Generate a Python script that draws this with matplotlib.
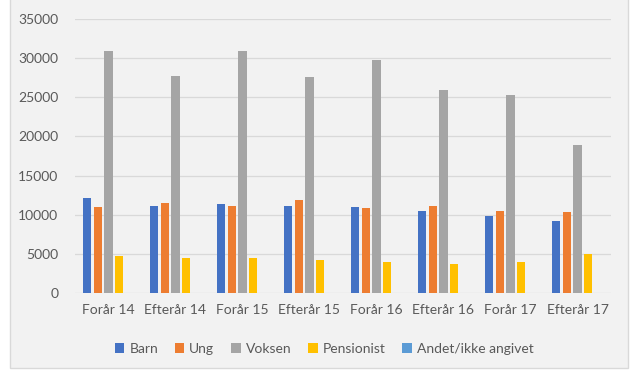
import matplotlib
matplotlib.use("Agg")
import matplotlib.pyplot as plt
import numpy as np
from matplotlib.patches import Rectangle

categories = ["Forår 14", "Efterår 14", "Forår 15", "Efterår 15",
              "Forår 16", "Efterår 16", "Forår 17", "Efterår 17"]
barn = [12150, 11050, 11400, 11050, 10950, 10450, 9850, 9250]
ung = [10950, 11450, 11100, 11900, 10800, 11050, 10450, 10350]
voksen = [30950, 27750, 30900, 27550, 29800, 25950, 25300, 18900]
pensionist = [4740, 4470, 4430, 4250, 3970, 3710, 3930, 5000]
andet = [0, 0, 0, 0, 0, 0, 0, 0]

series_names = ["Barn", "Ung", "Voksen", "Pensionist", "Andet/ikke angivet"]
series_values = [barn, ung, voksen, pensionist, andet]
colors = ["#4472C4", "#ED7D31", "#A5A5A5", "#FFC000", "#5B9BD5"]
yticks = [0, 5000, 10000, 15000, 20000, 25000, 30000, 35000]

plt.rcParams['font.family'] = ['Lato', 'DejaVu Sans']
text_color = "#595959"

fig = plt.figure(figsize=(6.4, 3.75), dpi=100)
fig.patch.set_facecolor("white")
bg = Rectangle((10/640, 1-368/375), 618/640, 368/375 + 0.01, transform=fig.transFigure,
               facecolor="#F2F2F2", edgecolor="#D9D9D9", linewidth=1.0, zorder=-10)
fig.patches.append(bg)

ax = fig.add_axes([75/640, 1-293/375, 536/640, 274/375])
ax.set_facecolor("none")
ax.set_zorder(1)

x = np.arange(len(categories))
step = 0.157
width = 0.12
handles = []
for i, (name, vals, c) in enumerate(zip(series_names, series_values, colors)):
    h = ax.bar(x + (i - 2) * step, vals, width=width, color=c, label=name, zorder=3)
    handles.append(h)

ax.set_xlim(-0.5, len(categories) - 0.5)
ax.set_ylim(0, 35000)
ax.set_yticks(yticks)
ax.set_yticklabels([str(v) for v in yticks])
ax.set_xticks(x)
ax.set_xticklabels(categories)
ax.grid(axis="y", color="#D9D9D9", linewidth=0.9, zorder=0)
ax.set_axisbelow(True)
for s in ax.spines.values():
    s.set_visible(False)
ax.tick_params(axis="both", length=0, colors=text_color, labelsize=10)
ax.tick_params(axis="y", pad=12)
ax.tick_params(axis="x", pad=8)

leg = fig.legend(handles=handles, labels=series_names, loc="center",
           bbox_to_anchor=(324/640, 1-349/375), ncol=5, frameon=False,
           fontsize=10, labelcolor=text_color, handlelength=0.7,
           handleheight=0.7, handletextpad=0.35, columnspacing=1.2)

fig.savefig("out.png", dpi=100)
